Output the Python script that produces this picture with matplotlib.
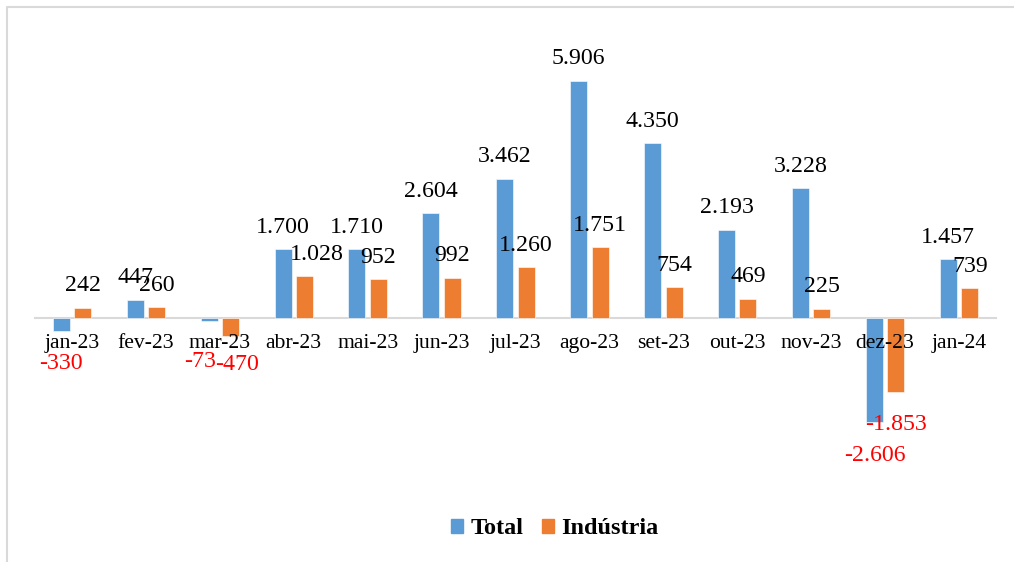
import matplotlib
matplotlib.use("Agg")
import matplotlib.pyplot as plt
from matplotlib.patches import Patch
from matplotlib.lines import Line2D
import numpy as np

months = ["jan-23", "fev-23", "mar-23", "abr-23", "mai-23", "jun-23", "jul-23",
          "ago-23", "set-23", "out-23", "nov-23", "dez-23", "jan-24"]
total = [-330, 447, -73, 1700, 1710, 2604, 3462, 5906, 4350, 2193, 3228, -2606, 1457]
industria = [242, 260, -470, 1028, 952, 992, 1260, 1751, 754, 469, 225, -1853, 739]

BLUE = "#5B9BD5"
ORANGE = "#ED7D31"
GRID = "#D9D9D9"

# small (dx, dy) pixel nudges for labels that Excel shifted to avoid overlap
nudge_total = {2: (-9, -8)}
nudge_ind = {2: (7, 5), 3: (12, 0)}

plt.rcParams["font.family"] = ["Liberation Serif", "DejaVu Serif"]

fig = plt.figure(figsize=(10.14, 5.62), dpi=100)
ax = fig.add_axes([35 / 1014, 1 - 478 / 562, 961 / 1014, 441 / 562])

x = np.arange(len(months))
w = 0.23
off = 0.145
bars_t = ax.bar(x - off, total, w, color=BLUE, edgecolor="white", linewidth=0.4, zorder=2)
bars_i = ax.bar(x + off, industria, w, color=ORANGE, edgecolor="white", linewidth=0.4, zorder=2)

ax.set_xlim(-0.5, len(months) - 0.5)
ax.set_ylim(-4000, 7000)


def fmt(v):
    return f"{v:,}".replace(",", ".")


def label(bars, vals, nudges):
    for i, (b, v) in enumerate(zip(bars, vals)):
        dx, dy = nudges.get(i, (0, 0))
        dy += 22 if v >= 0 else -33
        ax.annotate(fmt(v), (b.get_x() + b.get_width() / 2, v),
                    xytext=(dx, dy), textcoords="offset pixels",
                    ha="center", va="center", fontsize=17.2,
                    color="black" if v >= 0 else "#FF0000", zorder=3)


label(bars_t, total, nudge_total)
label(bars_i, industria, nudge_ind)

for s in ["top", "right", "left"]:
    ax.spines[s].set_visible(False)
ax.set_axisbelow(False)
ax.spines["bottom"].set_position(("data", 0))
ax.spines["bottom"].set_color(GRID)
ax.spines["bottom"].set_linewidth(1.5)
ax.spines["bottom"].set_zorder(1)
ax.set_yticks([])
ax.set_xticks(x)
ax.set_xticklabels(months, fontsize=15.6)
ax.tick_params(axis="x", length=0, pad=12)
ax.patch.set_visible(False)

handles = [Patch(color=BLUE, label="Total"), Patch(color=ORANGE, label="Indústria")]
fig.legend(handles=handles, loc="center", bbox_to_anchor=(555 / 1014, 1 - 529 / 562),
           ncol=2, frameon=False, prop={"weight": "bold", "size": 17.5},
           handlelength=0.5, handleheight=0.5, handletextpad=0.3, columnspacing=0.75)

# outer chart border (only top and left edges fall inside the picture)
fig.lines.append(Line2D([6.5 / 1014, 6.5 / 1014, 1.0], [0.0, 1 - 6.5 / 562, 1 - 6.5 / 562],
                        transform=fig.transFigure, color=GRID, linewidth=1.5))

fig.savefig("out.png", dpi=100)
